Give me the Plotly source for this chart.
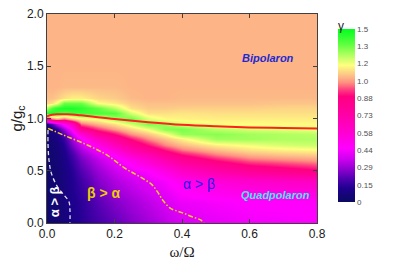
import numpy as np
import plotly.graph_objects as go

# colourbar tick labels (evenly spaced on the bar)
cb_labels = [0, 0.15, 0.29, 0.44, 0.58, 0.73, 0.88, 1.0, 1.2, 1.3, 1.5]
cb_text = ["0", "0.15", "0.29", "0.44", "0.58", "0.73", "0.88", "1.0", "1.2", "1.3", "1.5"]

# grid of gamma values (one list per omega/Omega column)
x_grid = [0, 0.015, 0.03, 0.05, 0.075, 0.1, 0.15, 0.2, 0.25, 0.3, 0.35, 0.4, 0.5, 0.6, 0.7, 0.8]
y_grid = [0, 0.2, 0.4, 0.5, 0.6, 0.65, 0.7, 0.75, 0.8, 0.85, 0.9, 0.95,
          1.0, 1.05, 1.1, 1.15, 1.2, 1.3, 1.5, 2.0]
g_x000 = [0.03, 0.03, 0.03, 0.03, 0.03, 0.03, 0.03, 0.04, 0.04, 0.05, 0.06, 0.1, 0.8, 1.45, 1.25, 1.1, 1.06, 1.04, 1.04, 1.04]
g_x015 = [0.04, 0.04, 0.04, 0.04, 0.04, 0.04, 0.05, 0.05, 0.06, 0.07, 0.09, 0.2, 0.95, 1.45, 1.35, 1.12, 1.06, 1.04, 1.04, 1.04]
g_x030 = [0.05, 0.05, 0.05, 0.05, 0.06, 0.06, 0.06, 0.07, 0.08, 0.1, 0.14, 0.35, 1.0, 1.42, 1.42, 1.2, 1.08, 1.04, 1.04, 1.04]
g_x050 = [0.07, 0.07, 0.08, 0.08, 0.09, 0.1, 0.11, 0.13, 0.16, 0.21, 0.3, 0.47, 0.95, 1.35, 1.45, 1.3, 1.12, 1.05, 1.04, 1.04]
g_x075 = [0.1, 0.11, 0.12, 0.13, 0.16, 0.18, 0.21, 0.25, 0.3, 0.37, 0.47, 0.65, 1.05, 1.38, 1.45, 1.3, 1.15, 1.05, 1.04, 1.04]
g_x100 = [0.13, 0.14, 0.17, 0.2, 0.24, 0.27, 0.31, 0.36, 0.44, 0.56, 0.82, 0.96, 1.15, 1.38, 1.42, 1.3, 1.15, 1.05, 1.04, 1.04]
g_x150 = [0.18, 0.21, 0.26, 0.29, 0.34, 0.38, 0.44, 0.52, 0.64, 0.8, 0.93, 1.04, 1.18, 1.36, 1.32, 1.18, 1.1, 1.05, 1.04, 1.04]
g_x200 = [0.22, 0.26, 0.32, 0.36, 0.42, 0.47, 0.56, 0.66, 0.78, 0.9, 1.0, 1.12, 1.26, 1.34, 1.24, 1.14, 1.08, 1.05, 1.04, 1.04]
g_x250 = [0.26, 0.3, 0.36, 0.41, 0.5, 0.6, 0.7, 0.8, 0.9, 0.99, 1.1, 1.22, 1.31, 1.22, 1.12, 1.08, 1.05, 1.04, 1.04, 1.04]
g_x300 = [0.3, 0.34, 0.4, 0.45, 0.6, 0.68, 0.8, 0.9, 0.98, 1.07, 1.2, 1.29, 1.22, 1.12, 1.08, 1.06, 1.04, 1.04, 1.04, 1.04]
g_x350 = [0.34, 0.38, 0.44, 0.53, 0.7, 0.8, 0.9, 0.98, 1.06, 1.18, 1.28, 1.27, 1.17, 1.12, 1.08, 1.06, 1.04, 1.04, 1.04, 1.04]
g_x400 = [0.38, 0.42, 0.5, 0.62, 0.8, 0.89, 0.97, 1.05, 1.15, 1.27, 1.29, 1.22, 1.16, 1.13, 1.09, 1.06, 1.05, 1.04, 1.04, 1.04]
g_x500 = [0.41, 0.44, 0.56, 0.72, 0.9, 0.97, 1.05, 1.15, 1.26, 1.28, 1.24, 1.18, 1.15, 1.12, 1.09, 1.06, 1.05, 1.04, 1.04, 1.04]
g_x600 = [0.43, 0.46, 0.6, 0.8, 0.96, 1.03, 1.12, 1.2, 1.26, 1.26, 1.22, 1.18, 1.15, 1.12, 1.09, 1.06, 1.05, 1.04, 1.04, 1.04]
g_x700 = [0.44, 0.46, 0.62, 0.84, 0.98, 1.06, 1.15, 1.22, 1.25, 1.25, 1.21, 1.17, 1.15, 1.12, 1.1, 1.07, 1.05, 1.04, 1.04, 1.04]
g_x800 = [0.45, 0.47, 0.64, 0.88, 1.0, 1.08, 1.17, 1.23, 1.25, 1.24, 1.2, 1.17, 1.15, 1.12, 1.1, 1.07, 1.05, 1.04, 1.04, 1.04]
gamma_cols = [g_x000, g_x015, g_x030, g_x050, g_x075, g_x100, g_x150, g_x200,
              g_x250, g_x300, g_x350, g_x400, g_x500, g_x600, g_x700, g_x800]

# red line
red_x = [0, 0.015, 0.03, 0.06, 0.1, 0.2, 0.3, 0.4, 0.5, 0.6, 0.7, 0.8]
red_y = [1.02, 1.035, 1.04, 1.04, 1.03, 0.995, 0.965, 0.94, 0.925, 0.915, 0.91, 0.905]

# yellow dash-dot line
yel_x = [0.003, 0.05, 0.11, 0.169, 0.2, 0.228, 0.26, 0.287, 0.31, 0.327, 0.345, 0.366,
         0.39, 0.406, 0.43, 0.455, 0.465]
yel_y = [0.906, 0.84, 0.76, 0.667, 0.6, 0.53, 0.47, 0.42, 0.37, 0.3, 0.21, 0.14,
         0.11, 0.092, 0.06, 0.029, 0.0]

# white dashed line
wht_x = [0.003, 0.003, 0.006, 0.013, 0.031, 0.05, 0.065, 0.068, 0.068]
wht_y = [0.89, 0.76, 0.6, 0.475, 0.347, 0.268, 0.204, 0.124, 0.0]

# map gamma onto the evenly spaced colourbar index
idx = np.arange(len(cb_labels))
Z = np.array(gamma_cols).T  # rows = y, cols = x
Zi = np.interp(Z, cb_labels, idx)

colorscale = [
    [0.00, "#0a0a60"],
    [0.08, "#200090"],
    [0.135, "#5000b0"],
    [0.19, "#9000d0"],
    [0.25, "#d000f0"],
    [0.31, "#ff00ff"],
    [0.405, "#ff00d0"],
    [0.52, "#ff00a0"],
    [0.61, "#ff0080"],
    [0.65, "#ff4080"],
    [0.69, "#ff9080"],
    [0.73, "#fcc088"],
    [0.79, "#ffff80"],
    [0.85, "#b0ff60"],
    [0.91, "#60ff40"],
    [1.00, "#00ff20"],
]

fig = go.Figure()
fig.add_trace(go.Heatmap(
    x=x_grid, y=y_grid, z=Zi, zmin=0, zmax=10, zsmooth="best",
    colorscale=colorscale, hoverinfo="skip",
    colorbar=dict(
        tickvals=list(idx), ticktext=cb_text,
        tickfont=dict(family="Arial", size=8, color="#505050"),
        ticks="", outlinewidth=0,
        thickness=17, thicknessmode="pixels",
        len=173, lenmode="pixels",
        x=1.078, xanchor="left", xpad=0,
        y=0.1005, yanchor="bottom", ypad=0,
    ),
))

fig.add_trace(go.Scatter(x=red_x, y=red_y, mode="lines", line=dict(color="#ff2020", width=2),
                         line_shape="spline", showlegend=False, hoverinfo="skip"))
fig.add_trace(go.Scatter(x=yel_x, y=yel_y, mode="lines",
                         line=dict(color="#f0d020", width=1.5, dash="5px,2px,1.5px,2px"),
                         line_shape="spline", showlegend=False, hoverinfo="skip"))
fig.add_trace(go.Scatter(x=wht_x, y=wht_y, mode="lines",
                         line=dict(color="#e0e0f0", width=1.3, dash="4px,3px"),
                         line_shape="spline", showlegend=False, hoverinfo="skip"))

annots = [
    dict(x=0.021, y=0.2, text="<b>α > β</b>", textangle=-90,
         font=dict(family="Arial", size=13, color="white")),
    dict(x=0.169, y=0.29, text="<b>β > α</b>",
         font=dict(family="Arial", size=14, color="#e8d000")),
    dict(x=0.45, y=0.37, text="α > β",
         font=dict(family="Arial", size=14, color="#1a1ae6")),
    dict(x=0.655, y=1.58, text="<b><i>Bipolaron</i></b>",
         font=dict(family="Arial", size=11, color="#1e2ad2")),
    dict(x=0.676, y=0.27, text="<b><i>Quadpolaron</i></b>",
         font=dict(family="Arial", size=11, color="#40e8f8")),
]
for a in annots:
    a.update(xref="x", yref="y", showarrow=False)
    fig.add_annotation(**a)
# colourbar title
fig.add_annotation(x=1.109, y=0.986, xref="paper", yref="paper", text="γ", showarrow=False,
                   font=dict(family="Arial", size=12, color="#202020"))

axis_common = dict(showline=True, linecolor="#404040", linewidth=1, mirror="ticks",
                   ticks="inside", ticklen=4, tickcolor="#404040", showgrid=False,
                   zeroline=False, automargin=False, ticklabeloverflow="allow",
                   tickfont=dict(family="Arial", size=12, color="#202020"))
fig.update_xaxes(range=[0, 0.8], tickvals=[0, 0.2, 0.4, 0.6, 0.8],
                 ticktext=["0.0", "0.2", "0.4", "0.6", "0.8"],
                 title=dict(text="ω/Ω", font=dict(family="Liberation Serif", size=15, color="#202020"),
                            standoff=6),
                 **axis_common)
fig.update_yaxes(range=[0, 2], tickvals=[0, 0.5, 1.0, 1.5, 2.0],
                 ticktext=["0.0", "0.5", "1.0", "1.5", "2.0"],
                 title=dict(text="g/g<sub>c</sub>", font=dict(family="Arial", size=15, color="#202020"),
                            standoff=4),
                 **axis_common)

# page body has an 8px margin: shift the figure margins to compensate
fig.update_layout(width=395, height=268, margin=dict(l=39, r=86, t=6, b=53),
                  paper_bgcolor="white", plot_bgcolor="white", showlegend=False)

fig.write_html("out.html")
